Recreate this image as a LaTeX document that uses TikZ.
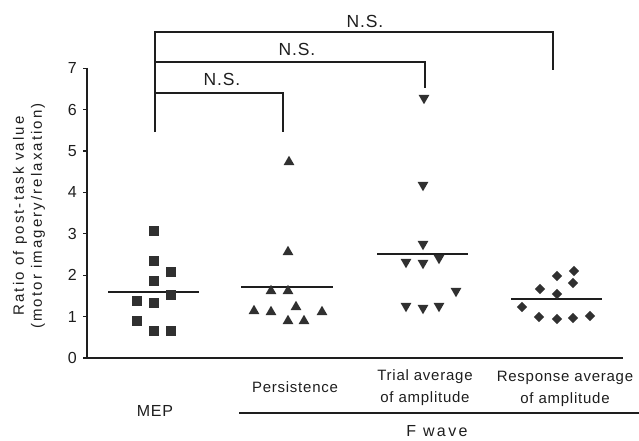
\documentclass[tikz,border=0pt]{standalone}
\usepackage{fontspec}
\setmainfont{Liberation Sans}
\newfontfamily\labf[LetterSpace=5]{Liberation Sans}
\newfontfamily\ylabf[LetterSpace=14]{Liberation Sans}
\newfontfamily\widef[LetterSpace=15]{Liberation Sans}
\usetikzlibrary{shapes.geometric}
\definecolor{ink}{HTML}{1E1E1E}
\definecolor{mk}{HTML}{303030}
\begin{document}
\begin{tikzpicture}[x=1pt,y=-1pt,
  every node/.style={text=ink},
  sqm/.style={rectangle,fill=mk,minimum size=10pt,inner sep=0pt},
  trim/.style={regular polygon,regular polygon sides=3,fill=mk,minimum size=12.5pt,inner sep=0pt},
  itrim/.style={trim,shape border rotate=180},
  dim/.style={diamond,fill=mk,minimum width=10.5pt,minimum height=10.5pt,inner sep=0pt},
  axisline/.style={draw=ink,line width=1.1pt},
  meanline/.style={draw=ink,line width=1.7pt},
  bracket/.style={draw=ink,line width=1.2pt},
  ticklab/.style={font=\labf\fontsize{16}{18}\selectfont,anchor=east,inner sep=0pt},
  nslab/.style={font=\labf\fontsize{17.5}{19}\selectfont,inner sep=0pt},
  grp/.style={font=\labf\fontsize{15}{22}\selectfont,align=center,inner sep=0pt},
  ylab/.style={font=\ylabf\fontsize{15}{18}\selectfont,rotate=90,inner sep=0pt},
]
\useasboundingbox (0,0) rectangle (639,441);

% lines first
\coordinate (ytop) at (87,68);
\coordinate (o) at (87,358);
\coordinate (xend) at (623,358);
\draw[axisline] (ytop) -- (o) -- (xend);
\coordinate (fl) at (239,413);
\coordinate (fr) at (639,413);
\draw[axisline] (fl) -- (fr);

\foreach \k in {0,...,7}{
  \coordinate (t\k) at (87,{358-41.4*\k});
  \draw[axisline] (t\k) -- ++(-4,0);
}

% mean lines
\coordinate (m1a) at (108,292); \coordinate (m1b) at (199,292);
\coordinate (m2a) at (241,287); \coordinate (m2b) at (333,287);
\coordinate (m3a) at (377,254); \coordinate (m3b) at (468,254);
\coordinate (m4a) at (511,299); \coordinate (m4b) at (602,299);
\draw[meanline] (m1a) -- (m1b);
\draw[meanline] (m2a) -- (m2b);
\draw[meanline] (m3a) -- (m3b);
\draw[meanline] (m4a) -- (m4b);

% brackets
\coordinate (bl) at (155,132);
\coordinate (bt) at (155,32);
\coordinate (btR) at (553,32); \coordinate (btE) at (553,70);
\coordinate (bmL) at (155,62); \coordinate (bmR) at (425,62); \coordinate (bmE) at (425,88);
\coordinate (bbL) at (155,93); \coordinate (bbR) at (283,93); \coordinate (bbE) at (283,132);
\draw[bracket] (bl) -- (bt) -- (btR) -- (btE);
\draw[bracket] (bmL) -- (bmR) -- (bmE);
\draw[bracket] (bbL) -- (bbR) -- (bbE);

% MEP squares
\foreach \x/\y [count=\i] in {154/231,154/261,171/272,154/281,171/295,137/301,154/303,137/321,154/331,171/331}
  \node[sqm] (s\i) at (\x,\y) {};
% Persistence triangles
\foreach \x/\y [count=\i] in {289/162,288/252,271/291,288/291,254/311,271/312,296/307,288/321,304/321,322/312}
  \node[trim] (p\i) at (\x,\y) {};
% Trial average inverted triangles
\foreach \x/\y [count=\i] in {424/98,423/185,423/244,406/262,423/263,439/258,456/291,406/306,423/308,439/306}
  \node[itrim] (q\i) at (\x,\y) {};
% Response average diamonds
\foreach \x/\y [count=\i] in {574/271,557/276,573/283,540/289,557/294,522/307,539/317,557/319,573/318,590/316}
  \node[dim] (r\i) at (\x,\y) {};

% texts
\foreach \k in {0,...,7}
  \node[ticklab] (tl\k) at (77,{358-41.4*\k}) {\k};
\node[ylab] (yl1) at (20,216) {Ratio of post-task value};
\node[ylab] (yl2) at (38,216) {(motor imagery/relaxation)};
\node[nslab] (ns1) at (365,21.5) {N.S.};
\node[nslab] (ns2) at (297,49) {N.S.};
\node[nslab] (ns3) at (222,79.5) {N.S.};
\node[grp,font=\labf\fontsize{16}{19}\selectfont] (mep) at (155,411) {MEP};
\node[grp] (per) at (295,387) {Persistence};
\node[grp] (tri) at (425,388) {Trial average\\of amplitude};
\node[grp] (res) at (565,389) {Response average\\of amplitude};
\node[font=\widef\fontsize{16}{19}\selectfont,inner sep=0pt] (fw) at (437,431.5) {F wave};
\end{tikzpicture}
\end{document}
